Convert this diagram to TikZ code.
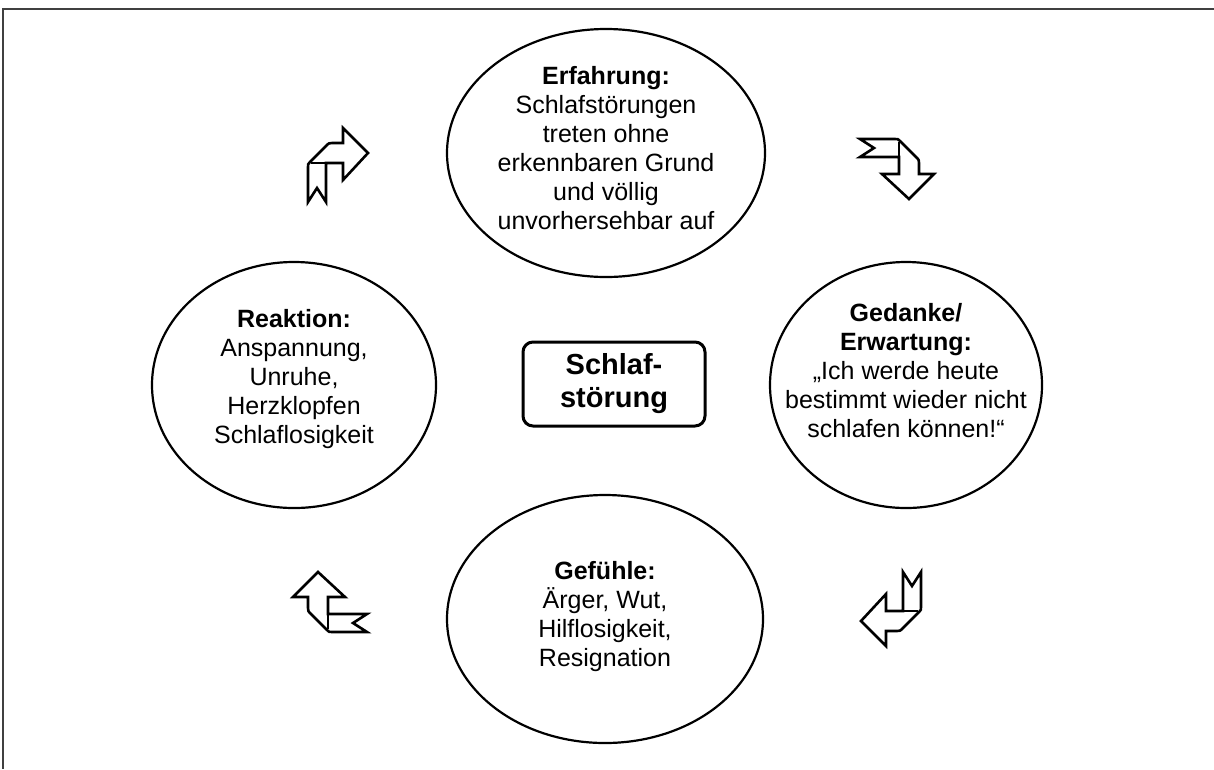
\documentclass[tikz,border=0pt]{standalone}
\usepackage{fontspec}
\setmainfont{Liberation Sans}
\usetikzlibrary{shapes.geometric,positioning,calc}

\tikzset{
  phase/.style={ellipse, draw, line width=2.2pt, inner sep=0pt},
  phasetext/.style={align=center, font=\fontsize{25}{29}\selectfont},
  kern/.style={draw, rectangle, rounded corners=10pt, line width=3pt,
    minimum width=182pt, minimum height=84pt, align=center,
    font=\bfseries\fontsize{29}{33}\selectfont},
  pics/kreispfeil/.style={code={
    \draw[line width=2.6pt, line join=miter] (-30,37) -- (-21,23) -- (-12,37) -- (-12,-2) -- (5,-2) -- (5,15)
      -- (30,-12) -- (5,-37) -- (5,-22) -- (-6,-22) .. controls (-9,-22) .. (-12,-19) -- (-28,-3)
      .. controls (-30,-1) .. (-30,2) -- cycle;
    \draw[line width=2.6pt] (-27,-2) -- (-12,-2);
  }}
}

\begin{document}
\begin{tikzpicture}[x=1pt,y=-1pt]
  \useasboundingbox (0,0) rectangle (1214,769);
  % frame
  \draw[line width=1.3pt, black!75] (1214,9) -- (3,9) -- (3,769);

  % ellipses of the cycle
  \node[phase, minimum width=318pt, minimum height=248pt] (erfahrung) at (606,153) {};
  \node[phase, minimum width=272pt, minimum height=246pt] (gedanke) at (906,385) {};
  \node[phase, minimum width=316pt, minimum height=248pt] (gefuehle) at (605,619) {};
  \node[phase, minimum width=284pt, minimum height=246pt] (reaktion) at (294,385) {};

  \node[phasetext] (erfahrungtext) at ($(erfahrung)+(0,-5)$) {\textbf{Erfahrung:}\\Schlafstörungen\\treten ohne\\erkennbaren Grund\\und völlig\\unvorhersehbar auf};
  \node[phasetext] (gedanketext) at ($(gedanke)+(0,-14)$) {\textbf{Gedanke/}\\\textbf{Erwartung:}\\„Ich werde heute\\bestimmt wieder nicht\\schlafen können!“};
  \node[phasetext] (gefuehletext) at ($(gefuehle)+(0,-2)$) {\textbf{Gefühle:}\\Ärger, Wut,\\Hilflosigkeit,\\Resignation};
  \node[phasetext] (reaktiontext) at ($(reaktion)+(0,-6)$) {\textbf{Reaktion:}\\Anspannung,\\Unruhe,\\Herzklopfen\\Schlaflosigkeit};

  % centre
  \node[kern] (mitte) at (614,384) {Schlaf-\\störung};

  % arrows
  \pic at (338,165) {kreispfeil};
  \pic[rotate=-90] at (897,169) {kreispfeil};
  \pic[rotate=180] at (891,609) {kreispfeil};
  \pic[rotate=90] at (330,602) {kreispfeil};
\end{tikzpicture}
\end{document}
